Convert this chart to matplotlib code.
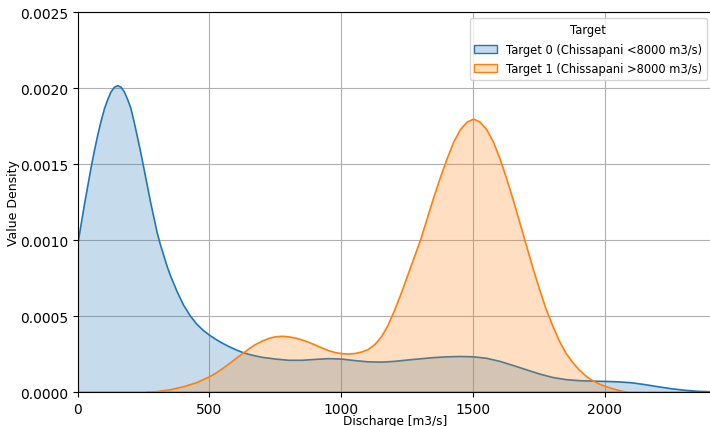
import matplotlib
matplotlib.use("Agg")
import matplotlib.pyplot as plt
from matplotlib.colors import to_rgba
from matplotlib.patches import Patch

# density curves (discharge in m3/s, density)
x_t0 = [0, 12.5, 25, 37.5, 50, 62.5, 75, 87.5, 100, 112.5, 125, 137.5, 150,
        162.5, 175, 187.5, 200, 212.5, 225, 237.5, 250, 262.5, 275, 287.5,
        300, 312.5, 325, 337.5, 350, 375, 400, 425, 450, 475, 500, 525, 550,
        575, 600, 625, 650, 675, 700, 750, 800, 850, 900, 950, 1000, 1050,
        1100, 1150, 1200, 1250, 1300, 1350, 1400, 1450, 1500, 1550, 1600,
        1650, 1700, 1750, 1800, 1850, 1900, 1950, 2000, 2050, 2100, 2150,
        2200, 2250, 2300, 2350, 2410]
y_t0 = [0.00099, 0.00112, 0.00125, 0.00137, 0.00149, 0.00160, 0.00170,
        0.00179, 0.00187, 0.00193, 0.00198, 0.00201, 0.00202, 0.00201,
        0.00198, 0.00193, 0.00187, 0.00178, 0.00168, 0.00158, 0.00147,
        0.00136, 0.00125, 0.00115, 0.00105, 0.00097, 0.00090, 0.00083,
        0.00077, 0.000665, 0.000575, 0.000505, 0.00045, 0.000408, 0.000375,
        0.000347, 0.000322, 0.0003, 0.00028, 0.000263, 0.00025, 0.00024,
        0.000231, 0.00022, 0.000212, 0.000212, 0.000218, 0.000223, 0.00022,
        0.00021, 0.000202, 0.0002, 0.000205, 0.000214, 0.000222, 0.00023,
        0.000235, 0.000237, 0.000235, 0.000225, 0.000205, 0.000178, 0.00015,
        0.000122, 0.000099, 0.000085, 0.000078, 0.000075, 0.000073, 0.00007,
        0.000064, 0.000052, 0.000038, 0.000025, 0.000015, 0.000008, 0.000004]

x_t1 = [255, 300, 350, 400, 450, 500, 525, 550, 575, 600, 625, 650, 675, 700,
        725, 750, 775, 800, 825, 850, 875, 900, 925, 950, 975, 1000, 1025,
        1050, 1075, 1100, 1125, 1150, 1175, 1200, 1225, 1250, 1275, 1300,
        1325, 1350, 1375, 1400, 1425, 1450, 1475, 1500, 1525, 1550, 1575,
        1600, 1625, 1650, 1675, 1700, 1725, 1750, 1775, 1800, 1825, 1850,
        1875, 1900, 1925, 1950, 1975, 2000, 2025, 2050, 2085]
y_t1 = [0.0, 0.000006, 0.000018, 0.000038, 0.000065, 0.000105, 0.00013,
        0.00016, 0.000192, 0.000225, 0.000258, 0.00029, 0.000318, 0.00034,
        0.000357, 0.000367, 0.00037, 0.000366, 0.000358, 0.000346, 0.00033,
        0.000312, 0.000293, 0.000276, 0.000263, 0.000256, 0.000253,
        0.000257, 0.000266, 0.000283, 0.000315, 0.000365, 0.00044, 0.00054,
        0.00065, 0.00077, 0.00089, 0.00101, 0.00115, 0.00129, 0.00142,
        0.00154, 0.00165, 0.00173, 0.00178, 0.00180, 0.00178, 0.00173,
        0.00165, 0.00154, 0.00141, 0.00127, 0.00112, 0.00097, 0.00082,
        0.00068, 0.00055, 0.00044, 0.00034, 0.00026, 0.00020, 0.00015,
        0.00011, 0.00008, 0.000057, 0.00004, 0.000026, 0.000014, 0.0]

labels = ["Target 0 (Chissapani <8000 m3/s)", "Target 1 (Chissapani >8000 m3/s)"]
colors = ["#1f77b4", "#ff7f0e"]

fig = plt.figure(figsize=(7.1, 4.27), dpi=100)
# right spine sits just past the image edge, like the reference
ax = fig.add_axes([0.1094, 0.0796, 0.8948, 0.8893])

for xs, ys, c in [(x_t0, y_t0, colors[0]), (x_t1, y_t1, colors[1])]:
    ax.fill_between(xs, ys, 0, facecolor=to_rgba(c, 0.25), edgecolor=c,
                    linewidth=1.2)

ax.set_xlim(0, 2410)
ax.set_ylim(0, 0.0025)
ax.set_xticks([0, 500, 1000, 1500, 2000])
ax.grid(True, color="#b0b0b0", linewidth=0.8)
ax.set_axisbelow(True)
ax.set_xlabel("Discharge [m3/s]", fontsize=8.7)
ax.set_ylabel("Value Density", fontsize=9)
ax.xaxis.set_label_coords(0.5, -0.058)
ax.yaxis.set_label_coords(-0.09, 0.5)

handles = [Patch(facecolor=to_rgba(c, 0.25), edgecolor=c) for c in colors]
ax.legend(handles, labels, title="Target", loc="upper right",
          fontsize=8.3, title_fontsize=8.3, labelspacing=0.6)

fig.savefig("out.png", dpi=100)
